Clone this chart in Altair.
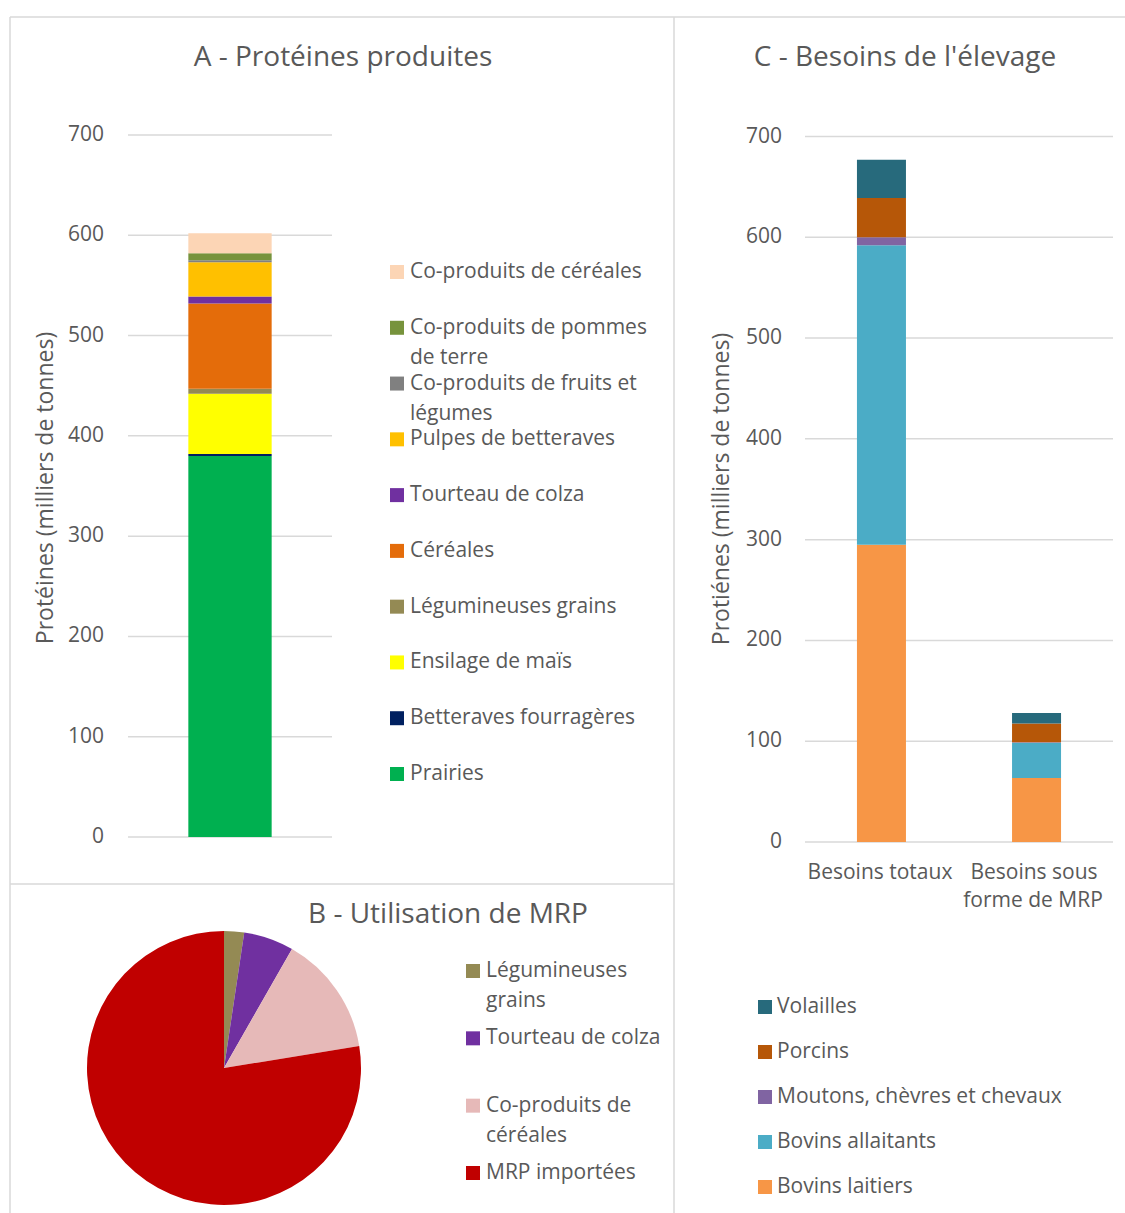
import altair as alt
import pandas as pd

FONT = "Open Sans"
TXT = "#595959"
GRID = "#d9d9d9"
FS = 21

# ---------------- Panel A : Protéines produites ----------------
a_categories = ["Prairies", "Betteraves fourragères", "Ensilage de maïs", "Légumineuses grains",
                "Céréales", "Tourteau de colza", "Pulpes de betteraves",
                "Co-produits de fruits et légumes", "Co-produits de pommes de terre",
                "Co-produits de céréales"]
a_values = [380, 2, 60, 5, 85, 7, 34, 2, 7, 20]
a_colors = ["#00B050", "#002060", "#FFFF00", "#948A54", "#E46C0A", "#7030A0", "#FFC000",
            "#808080", "#77933C", "#FCD5B5"]
a_label_line1 = ["Prairies", "Betteraves fourragères", "Ensilage de maïs", "Légumineuses grains",
                 "Céréales", "Tourteau de colza", "Pulpes de betteraves",
                 "Co-produits de fruits et", "Co-produits de pommes", "Co-produits de céréales"]
a_label_line2 = ["", "", "", "", "", "", "", "légumes", "de terre", ""]
a_ticks = [0, 100, 200, 300, 400, 500, 600, 700]

# ---------------- Panel B : Utilisation de MRP ----------------
b_categories = ["Légumineuses grains", "Tourteau de colza", "Co-produits de céréales", "MRP importées"]
b_values = [3, 7.5, 18, 98.5]
b_colors = ["#948A54", "#7030A0", "#E6B9B8", "#C00000"]
b_label_line1 = ["Légumineuses", "Tourteau de colza", "Co-produits de", "MRP importées"]
b_label_line2 = ["grains", "", "céréales", ""]

# ---------------- Panel C : Besoins de l'élevage ----------------
c_groups = ["Besoins totaux", "Besoins sous forme de MRP"]
c_group_line1 = ["Besoins totaux", "Besoins sous"]
c_group_line2 = ["", "forme de MRP"]
c_series = ["Bovins laitiers", "Bovins allaitants", "Moutons, chèvres et chevaux", "Porcins", "Volailles"]
c_totaux = [295, 297, 8, 39, 38]
c_mrp = [63.5, 35, 0.5, 18.5, 10.5]
c_colors = ["#F79646", "#4BACC6", "#8064A2", "#B65708", "#276A7C"]
c_ticks = [0, 100, 200, 300, 400, 500, 600, 700]

titles = ["A - Protéines produites", "B - Utilisation de MRP", "C - Besoins de l'élevage"]
y_titles = ["Protéines (milliers de tonnes)", "Protiénes (milliers de tonnes)"]

# ---------------- tables ----------------
dfA = pd.DataFrame({"cat": a_categories, "val": a_values, "ord": list(range(len(a_categories))),
                    "panel": "A", "l1": a_label_line1, "l2": a_label_line2})
dfAt = pd.DataFrame({"t": a_ticks})
dfB = pd.DataFrame({"cat": b_categories, "val": b_values, "ord": list(range(len(b_categories))),
                    "l1": b_label_line1, "l2": b_label_line2})
rows = []
for gi, g in enumerate(c_groups):
    vals = c_totaux if gi == 0 else c_mrp
    for si, s in enumerate(c_series):
        rows.append({"grp": g, "ser": s, "val": vals[si], "ord": si})
dfC = pd.DataFrame(rows)
dfCg = pd.DataFrame({"grp": c_groups, "l1": c_group_line1, "l2": c_group_line2})
dfCl = pd.DataFrame({"ser": c_series})
dfCt = pd.DataFrame({"t": c_ticks})

# ---------------- scales ----------------
yA = alt.Scale(domain=[0, 700], range=[837, 135], nice=False)
xA = alt.Scale(domain=["A"], range=[128, 332], paddingInner=0.42, paddingOuter=0.42)
colA = alt.Scale(domain=a_categories, range=a_colors)
legA = alt.Scale(type="point", domain=a_categories[::-1], range=[272, 774], padding=0)

colB = alt.Scale(domain=b_categories, range=b_colors)
legB = alt.Scale(type="point", domain=b_categories, range=[971, 1173], padding=0)

yC = alt.Scale(domain=[0, 700], range=[842, 136.5], nice=False)
xC = alt.Scale(domain=c_groups, range=[805, 1113], paddingInner=0.684, paddingOuter=0.335)
colC = alt.Scale(domain=c_series, range=c_colors)
legC = alt.Scale(type="point", domain=c_series[::-1], range=[1007, 1187], padding=0)

txt = dict(font=FONT, color=TXT, fontSize=FS)
one = pd.DataFrame({"k": [0]})

layers = []

# ---------------- borders ----------------
def line(x1, y1, x2, y2):
    return alt.Chart(one).mark_rule(color=GRID, strokeWidth=1.5).encode(
        x=alt.value(x1), y=alt.value(y1), x2=alt.value(x2), y2=alt.value(y2))

layers += [line(10, 17, 1125, 17), line(10, 17, 10, 1213), line(674, 17, 674, 1213),
           line(10, 884, 674, 884)]

# ---------------- Panel A ----------------
layers.append(alt.Chart(dfAt).mark_rule(color=GRID, strokeWidth=1.5).encode(
    y=alt.Y("t:Q", scale=yA, axis=None), x=alt.value(128), x2=alt.value(332)))
layers.append(alt.Chart(dfAt).mark_text(align="right", baseline="middle", **txt).encode(
    y=alt.Y("t:Q", scale=yA, axis=None), x=alt.value(104), text="t:Q"))
layers.append(alt.Chart(dfA).mark_bar().encode(
    x=alt.X("panel:N", scale=xA, axis=None),
    y=alt.Y("val:Q", stack="zero", scale=yA, axis=None),
    color=alt.Color("cat:N", scale=colA, legend=None),
    order=alt.Order("ord:Q")))
layers.append(alt.Chart(dfA).mark_square(size=196, opacity=1).encode(
    x=alt.value(397), y=alt.Y("cat:N", scale=legA, axis=None),
    color=alt.Color("cat:N", scale=colA, legend=None)))
layers.append(alt.Chart(dfA).mark_text(align="left", baseline="middle", **txt).encode(
    x=alt.value(410), y=alt.Y("cat:N", scale=legA, axis=None), text="l1:N"))
layers.append(alt.Chart(dfA).mark_text(align="left", baseline="middle", dy=30, **txt).encode(
    x=alt.value(410), y=alt.Y("cat:N", scale=legA, axis=None), text="l2:N"))
layers.append(alt.Chart(pd.DataFrame({"t": [titles[0]]})).mark_text(
    align="center", baseline="middle", font=FONT, color=TXT, fontSize=28).encode(
    x=alt.value(343), y=alt.value(58), text="t:N"))
layers.append(alt.Chart(pd.DataFrame({"t": [y_titles[0]]})).mark_text(
    align="center", baseline="middle", angle=270, font=FONT, color=TXT, fontSize=23).encode(
    x=alt.value(46), y=alt.value(488), text="t:N"))

# ---------------- Panel B ----------------
layers.append(alt.Chart(dfB).mark_arc(radius=137).encode(
    theta=alt.Theta("val:Q", stack=True),
    order=alt.Order("ord:Q"),
    color=alt.Color("cat:N", scale=colB, legend=None),
    x=alt.value(224), y=alt.value(1068)))
layers.append(alt.Chart(dfB).mark_square(size=196, opacity=1).encode(
    x=alt.value(473), y=alt.Y("cat:N", scale=legB, axis=None),
    color=alt.Color("cat:N", scale=colB, legend=None)))
layers.append(alt.Chart(dfB).mark_text(align="left", baseline="middle", **txt).encode(
    x=alt.value(486), y=alt.Y("cat:N", scale=legB, axis=None), text="l1:N"))
layers.append(alt.Chart(dfB).mark_text(align="left", baseline="middle", dy=30, **txt).encode(
    x=alt.value(486), y=alt.Y("cat:N", scale=legB, axis=None), text="l2:N"))
layers.append(alt.Chart(pd.DataFrame({"t": [titles[1]]})).mark_text(
    align="center", baseline="middle", font=FONT, color=TXT, fontSize=28).encode(
    x=alt.value(448), y=alt.value(915), text="t:N"))

# ---------------- Panel C ----------------
layers.append(alt.Chart(dfCt).mark_rule(color=GRID, strokeWidth=1.5).encode(
    y=alt.Y("t:Q", scale=yC, axis=None), x=alt.value(805), x2=alt.value(1113)))
layers.append(alt.Chart(dfCt).mark_text(align="right", baseline="middle", **txt).encode(
    y=alt.Y("t:Q", scale=yC, axis=None), x=alt.value(782), text="t:Q"))
layers.append(alt.Chart(dfC).mark_bar().encode(
    x=alt.X("grp:N", scale=xC, axis=None),
    y=alt.Y("val:Q", stack="zero", scale=yC, axis=None),
    color=alt.Color("ser:N", scale=colC, legend=None),
    order=alt.Order("ord:Q")))
layers.append(alt.Chart(dfCg).mark_text(align="center", baseline="middle", dx=-2, **txt).encode(
    x=alt.X("grp:N", scale=xC, axis=None), y=alt.value(873), text="l1:N"))
layers.append(alt.Chart(dfCg).mark_text(align="center", baseline="middle", dx=-3, **txt).encode(
    x=alt.X("grp:N", scale=xC, axis=None), y=alt.value(901), text="l2:N"))
layers.append(alt.Chart(dfCl).mark_square(size=196, opacity=1).encode(
    x=alt.value(765), y=alt.Y("ser:N", scale=legC, axis=None),
    color=alt.Color("ser:N", scale=colC, legend=None)))
layers.append(alt.Chart(dfCl).mark_text(align="left", baseline="middle", **txt).encode(
    x=alt.value(777), y=alt.Y("ser:N", scale=legC, axis=None), text="ser:N"))
layers.append(alt.Chart(pd.DataFrame({"t": [titles[2]]})).mark_text(
    align="center", baseline="middle", font=FONT, color=TXT, fontSize=28).encode(
    x=alt.value(905), y=alt.value(58), text="t:N"))
layers.append(alt.Chart(pd.DataFrame({"t": [y_titles[1]]})).mark_text(
    align="center", baseline="middle", angle=270, font=FONT, color=TXT, fontSize=23).encode(
    x=alt.value(722), y=alt.value(489), text="t:N"))

chart = alt.layer(*layers).resolve_scale(
    x="independent", y="independent", color="independent", theta="independent"
).properties(
    width=1125, height=1213, padding=0, autosize=alt.AutoSizeParams(type="none"),
    background="white"
).configure_view(stroke=None)

chart.save("out.html", embed_options={"renderer": "svg", "actions": False})
